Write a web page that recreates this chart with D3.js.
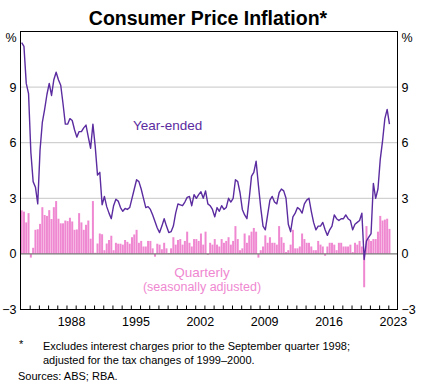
<!DOCTYPE html>
<html>
<head>
<meta charset="utf-8">
<script src="https://cdn.jsdelivr.net/npm/d3@7"></script>
<style>
  body { margin: 0; background: #fff; }
  svg { display: block; font-family: "Liberation Sans", Arial, sans-serif; }
</style>
</head>
<body>
<div id="chart"></div>
<script>
// ---- data (quarterly, 1983 Q1 to 2023 Q1) ----
const startYear = 1983;

const yearEnded = [
  11.4, 11.2, 9.2, 8.65, 5.5, 3.9, 3.6, 2.7,
  5.6, 7.1, 7.8, 8.6, 9.2, 8.55, 9.4, 9.8,
  9.4, 9.1, 8.1, 7.0, 7.0, 7.3, 7.2, 6.7,
  6.3, 6.6, 6.6, 6.8, 6.95, 6.3, 5.7, 7.0,
  5.8, 4.25, 4.4, 2.65, 3.1, 2.55, 2.2, 1.9,
  2.6, 2.95, 2.85, 2.5, 2.3, 2.45, 2.4, 2.5,
  3.0, 3.5, 4.0, 3.9, 3.5, 3.0, 2.5, 2.55,
  2.4, 2.1, 1.75, 1.4, 1.15, 1.5, 1.9, 1.5,
  1.15, 1.2, 1.5, 2.2, 2.7, 2.65, 2.6, 2.8,
  3.05, 3.1, 2.6, 3.2, 3.0, 3.2, 3.35, 3.0,
  3.4, 2.7, 2.6, 2.4, 2.0, 2.5, 2.3, 2.6,
  2.4, 2.5, 3.0, 2.8, 3.0, 4.0, 3.9, 3.3,
  2.4, 2.1, 1.9, 3.0, 4.2, 4.4, 5.0, 3.7,
  2.5, 1.5, 1.3, 2.1, 2.9, 3.1, 2.8, 2.7,
  3.3, 3.5, 3.4, 3.0, 1.6, 1.2, 2.0, 2.2,
  2.5, 2.4, 2.2, 2.7, 2.9, 3.0, 2.3, 1.7,
  1.3, 1.5, 1.5, 1.7, 1.3, 1.0, 1.3, 1.5,
  2.1, 1.9, 1.8, 1.9, 1.9, 2.1, 1.9, 1.8,
  1.3, 1.6, 1.7, 1.8, 2.2, -0.3, 0.7, 0.9,
  1.1, 3.8, 3.0, 3.5, 5.1, 6.1, 7.3, 7.8,
  7.0
];

const quarterly = [
  2.35, 2.28, 1.7, 2.2, -0.2, 0.33, 1.3, 1.33,
  1.62, 2.52, 2.1, 2.05, 2.36, 1.88, 2.52, 2.85,
  1.9, 1.65, 1.65, 1.8, 1.77, 1.95, 1.75, 1.3,
  1.32, 2.2, 1.7, 1.3, 1.57, 1.8, 0.82, 2.85,
  0.06, 0.56, 1.1, 1.06, 0.2, 0.56, 0.75, 0.98,
  0.2, 0.6, 0.55, 0.55, 0.5, 0.75, 0.65, 0.55,
  0.9, 1.05, 1.3, 0.6, 0.7, 0.4, 0.4, 0.7,
  0.7, 0.3, -0.15, 0.55, 0.5, 0.25, 0.6, 0.3,
  0.05, 0.3, 0.9, 0.5, 0.75, 0.8, 0.5, 0.7,
  1.2, 0.6, 0.4, 0.8, 0.8, 0.7, 1.1, 0.5,
  1.2, -0.05, 0.6, 0.5, 0.8, 0.5, 0.4, 0.8,
  0.6, 0.7, 0.9, 0.5, 0.7, 1.5, 0.8, 0.2,
  0.3, 1.1, 0.6, 1.0, 1.2, 1.4, 1.2, -0.2,
  0.2, 0.4, 1.0, 0.6, 0.9, 0.6, 0.6, 0.5,
  1.5, 0.9, 0.6, 0.1, 0.2, 0.5, 1.3, 0.3,
  0.3, 0.4, 1.1, 0.8, 0.6, 0.6, 0.4, 0.2,
  0.2, 0.7, 0.5, 0.4, -0.1, 0.4, 0.6, 0.6,
  0.5, 0.2, 0.6, 0.6, 0.4, 0.4, 0.4, 0.5,
  0.1, 0.6, 0.5, 0.7, 0.4, -1.8, 1.5, 0.8,
  0.7, 0.8, 0.8, 1.2, 2.05, 1.8, 1.85, 1.9,
  1.35
];

const yTicks = [-3, 0, 3, 6, 9];
const gridValues = [3, 6, 9];
const xLabels = [1988, 1995, 2002, 2009, 2016, 2023];

// ---- setup ----
const colors = {
  line: '#5b2ca0',
  bar: '#ef88d1',
  grid: '#c6c6c6',
  zero: '#7a7a7a',
  text: '#000'
};

const W = 424, H = 387;
const plot = { left: 20.5, right: 397.5, top: 31.5, bottom: 309.5 };

const svg = d3.select('#chart').append('svg')
  .attr('width', W).attr('height', H);

const x = d3.scaleLinear().domain([1983, 2024]).range([plot.left, plot.right]);
const y = d3.scaleLinear().domain([-3, 12]).range([plot.bottom, plot.top]);

const qTime = i => startYear + i * 0.25 + 0.125;

// title
svg.append('text')
  .attr('x', 208).attr('y', 25)
  .attr('text-anchor', 'middle')
  .style('font-size', '19.5px').style('font-weight', 'bold')
  .text('Consumer Price Inflation*');

// grid lines
svg.append('g').selectAll('line').data(gridValues).join('line')
  .attr('x1', plot.left).attr('x2', plot.right)
  .attr('y1', d => y(d)).attr('y2', d => y(d))
  .attr('stroke', colors.grid).attr('stroke-width', 1);

// quarterly bars
const barW = 2;
svg.append('g').selectAll('rect').data(quarterly).join('rect')
  .attr('x', (d, i) => x(qTime(i)) - barW / 2)
  .attr('width', barW)
  .attr('y', d => y(Math.max(0, d)))
  .attr('height', d => Math.abs(y(d) - y(0)))
  .attr('fill', colors.bar);

// zero line
svg.append('line')
  .attr('x1', plot.left).attr('x2', plot.right)
  .attr('y1', y(0)).attr('y2', y(0))
  .attr('stroke', colors.zero).attr('stroke-width', 1.3);

// year-ended line
const line = d3.line()
  .x((d, i) => x(qTime(i)))
  .y(d => y(d));

svg.append('path')
  .datum(yearEnded)
  .attr('d', line)
  .attr('fill', 'none')
  .attr('stroke', colors.line)
  .attr('stroke-width', 1.4)
  .attr('stroke-linejoin', 'round');

// frame
svg.append('rect')
  .attr('x', plot.left).attr('y', plot.top)
  .attr('width', plot.right - plot.left).attr('height', plot.bottom - plot.top)
  .attr('fill', 'none').attr('stroke', '#000').attr('stroke-width', 1);

// x ticks (yearly, pointing up)
const years = d3.range(1984, 2024);
svg.append('g')
  .attr('transform', `translate(0,${plot.bottom})`)
  .call(d3.axisBottom(x).tickValues(years).tickSize(-4).tickFormat(''))
  .call(g => g.select('.domain').remove())
  .selectAll('line').attr('stroke', '#000');

// x labels centred within the year
const xAxis = svg.append('g')
  .attr('transform', `translate(0,${plot.bottom})`)
  .call(d3.axisBottom(x).tickValues(xLabels.map(v => v + 0.5)).tickSize(0)
    .tickPadding(8).tickFormat(d => Math.floor(d)));
xAxis.select('.domain').remove();
xAxis.selectAll('text')
  .style('font-size', '12.5px').style('font-family', '"Liberation Sans", Arial, sans-serif')
  .attr('fill', colors.text);

// y axes
const leftAxis = svg.append('g')
  .attr('transform', `translate(${plot.left},0)`)
  .call(d3.axisLeft(y).tickValues(yTicks).tickSize(0).tickPadding(4));
const rightAxis = svg.append('g')
  .attr('transform', `translate(${plot.right},0)`)
  .call(d3.axisRight(y).tickValues(yTicks).tickSize(0).tickPadding(4));
[leftAxis, rightAxis].forEach(a => {
  a.select('.domain').remove();
  a.selectAll('text')
    .style('font-size', '12.5px').style('font-family', '"Liberation Sans", Arial, sans-serif')
    .attr('fill', colors.text);
});

// unit labels
svg.append('text').attr('x', plot.left - 4).attr('y', 42)
  .attr('text-anchor', 'end').style('font-size', '12.5px').text('%');
svg.append('text').attr('x', plot.right + 4).attr('y', 42)
  .attr('text-anchor', 'start').style('font-size', '12.5px').text('%');

// series labels
svg.append('text').attr('x', 133).attr('y', 130)
  .style('font-size', '13.5px').attr('fill', colors.line).text('Year-ended');
svg.append('text').attr('x', 202).attr('y', 277)
  .attr('text-anchor', 'middle')
  .style('font-size', '13.5px').attr('fill', colors.bar).text('Quarterly');
svg.append('text').attr('x', 202).attr('y', 291)
  .attr('text-anchor', 'middle')
  .style('font-size', '12.5px').attr('fill', colors.bar).text('(seasonally adjusted)');

// footnotes
const foot = svg.append('g').style('font-size', '11px');
foot.append('text').attr('x', 19).attr('y', 348).text('*');
foot.append('text').attr('x', 43).attr('y', 350)
  .text('Excludes interest charges prior to the September quarter 1998;');
foot.append('text').attr('x', 43).attr('y', 364)
  .text('adjusted for the tax changes of 1999\u20132000.');
foot.append('text').attr('x', 18).attr('y', 380)
  .text('Sources: ABS; RBA.');
</script>
</body>
</html>
